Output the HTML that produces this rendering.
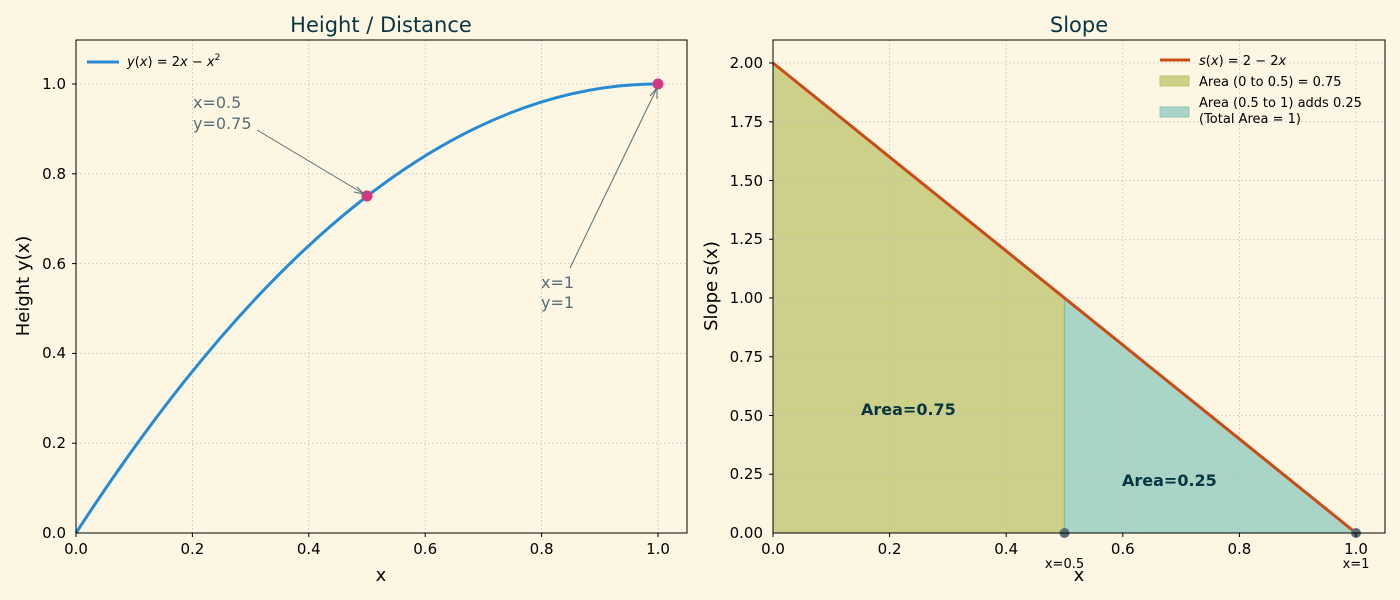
<!DOCTYPE html><html><head><meta charset="utf-8"><style>body{margin:0;background:#fdf6e3}svg{display:block;font-family:"DejaVu Sans","Liberation Sans",sans-serif}</style></head><body>
<svg width="1400" height="600" viewBox="0 0 1400 600">
<rect width="1400" height="600" fill="#fdf6e3"/>
<g stroke="#bbb" stroke-dasharray="1.5,2.5" stroke-width="0.8">
<line x1="192.4" y1="40" x2="192.4" y2="533"/><line x1="308.8" y1="40" x2="308.8" y2="533"/><line x1="425.2" y1="40" x2="425.2" y2="533"/><line x1="541.6" y1="40" x2="541.6" y2="533"/><line x1="658" y1="40" x2="658" y2="533"/>
<line x1="76" y1="443.2" x2="687" y2="443.2"/><line x1="76" y1="353.4" x2="687" y2="353.4"/><line x1="76" y1="263.6" x2="687" y2="263.6"/><line x1="76" y1="173.8" x2="687" y2="173.8"/><line x1="76" y1="84" x2="687" y2="84"/>
</g>
<path d="M76,533 Q367,84 658,84" fill="none" stroke="#268bd2" stroke-width="3"/>
<circle cx="367" cy="196" r="5.5" fill="#d33682"/><circle cx="658" cy="84" r="5.5" fill="#d33682"/>
<g stroke="#586e75" stroke-width="1" fill="none"><line x1="257" y1="130" x2="364" y2="194"/><path d="M354,192 L364,194 L357,187"/><line x1="570" y1="268" x2="657" y2="88"/><path d="M650,96 L657,88 L657,99"/></g>
<g fill="#586e75" font-size="16"><text x="193" y="108">x=0.5</text><text x="193" y="129">y=0.75</text><text x="541" y="288">x=1</text><text x="541" y="308">y=1</text></g>
<rect x="76" y="40" width="611" height="493" fill="none" stroke="#000" stroke-width="1"/>
<g font-size="15" fill="#000" text-anchor="middle">
<text x="76" y="554">0.0</text><text x="192.4" y="554">0.2</text><text x="308.8" y="554">0.4</text><text x="425.2" y="554">0.6</text><text x="541.6" y="554">0.8</text><text x="658" y="554">1.0</text></g>
<g font-size="15" fill="#000" text-anchor="end">
<text x="66" y="538">0.0</text><text x="66" y="448">0.2</text><text x="66" y="358">0.4</text><text x="66" y="269">0.6</text><text x="66" y="179">0.8</text><text x="66" y="89">1.0</text></g>
<g stroke="#000"><line x1="76" y1="533" x2="76" y2="537"/><line x1="192.4" y1="533" x2="192.4" y2="537"/><line x1="308.8" y1="533" x2="308.8" y2="537"/><line x1="425.2" y1="533" x2="425.2" y2="537"/><line x1="541.6" y1="533" x2="541.6" y2="537"/><line x1="658" y1="533" x2="658" y2="537"/>
<line x1="72" y1="443.2" x2="76" y2="443.2"/><line x1="72" y1="353.4" x2="76" y2="353.4"/><line x1="72" y1="263.6" x2="76" y2="263.6"/><line x1="72" y1="173.8" x2="76" y2="173.8"/><line x1="72" y1="84" x2="76" y2="84"/></g>
<text x="381" y="581" font-size="18" text-anchor="middle">x</text>
<text transform="translate(29,286) rotate(-90)" font-size="18" text-anchor="middle">Height y(x)</text>
<text x="381" y="32" font-size="21" fill="#073642" text-anchor="middle">Height / Distance</text>
<line x1="87" y1="62" x2="119" y2="62" stroke="#268bd2" stroke-width="3"/>
<text x="127" y="66" font-size="13"><tspan font-style="italic">y</tspan>(<tspan font-style="italic">x</tspan>) = 2<tspan font-style="italic">x</tspan> − <tspan font-style="italic">x</tspan><tspan font-size="9" dy="-6">2</tspan></text>

<polygon points="773,533 773,63 1064.5,298 1064.5,533" fill="#cdd089"/>
<polygon points="1064.5,533 1064.5,298 1356,533" fill="#a9d5c6"/>
<line x1="1064.5" y1="298" x2="1064.5" y2="533" stroke="#8fbf8f" stroke-width="1.5"/>
<g stroke="#bbb" stroke-dasharray="1.5,2.5" stroke-width="0.8">
<line x1="889.6" y1="40" x2="889.6" y2="533"/><line x1="1006.2" y1="40" x2="1006.2" y2="533"/><line x1="1122.8" y1="40" x2="1122.8" y2="533"/><line x1="1239.4" y1="40" x2="1239.4" y2="533"/><line x1="1356" y1="40" x2="1356" y2="533"/>
<line x1="773" y1="474.25" x2="1385" y2="474.25"/><line x1="773" y1="415.5" x2="1385" y2="415.5"/><line x1="773" y1="356.75" x2="1385" y2="356.75"/><line x1="773" y1="298" x2="1385" y2="298"/><line x1="773" y1="239.25" x2="1385" y2="239.25"/><line x1="773" y1="180.5" x2="1385" y2="180.5"/><line x1="773" y1="121.75" x2="1385" y2="121.75"/><line x1="773" y1="63" x2="1385" y2="63"/>
</g>
<line x1="773" y1="63" x2="1356" y2="533" stroke="#cb4b16" stroke-width="3"/>
<circle cx="1064.5" cy="533" r="5" fill="#586e75"/><circle cx="1356" cy="533" r="5" fill="#586e75"/>
<g font-size="16" font-weight="bold" fill="#073642"><text x="861" y="415">Area=0.75</text><text x="1122" y="486">Area=0.25</text></g>
<rect x="773" y="40" width="612" height="493" fill="none" stroke="#000" stroke-width="1"/>
<g font-size="15" text-anchor="middle">
<text x="773" y="554">0.0</text><text x="889.6" y="554">0.2</text><text x="1006.2" y="554">0.4</text><text x="1122.8" y="554">0.6</text><text x="1239.4" y="554">0.8</text><text x="1356" y="554">1.0</text></g>
<g font-size="13" text-anchor="middle"><text x="1064.5" y="568">x=0.5</text><text x="1356" y="568">x=1</text></g>
<g font-size="15" text-anchor="end">
<text x="763" y="538">0.00</text><text x="763" y="479">0.25</text><text x="763" y="421">0.50</text><text x="763" y="362">0.75</text><text x="763" y="303">1.00</text><text x="763" y="244">1.25</text><text x="763" y="186">1.50</text><text x="763" y="127">1.75</text><text x="763" y="68">2.00</text></g>
<g stroke="#000"><line x1="773" y1="533" x2="773" y2="537"/><line x1="889.6" y1="533" x2="889.6" y2="537"/><line x1="1006.2" y1="533" x2="1006.2" y2="537"/><line x1="1122.8" y1="533" x2="1122.8" y2="537"/><line x1="1239.4" y1="533" x2="1239.4" y2="537"/><line x1="1356" y1="533" x2="1356" y2="537"/>
<line x1="769" y1="474.25" x2="773" y2="474.25"/><line x1="769" y1="415.5" x2="773" y2="415.5"/><line x1="769" y1="356.75" x2="773" y2="356.75"/><line x1="769" y1="298" x2="773" y2="298"/><line x1="769" y1="239.25" x2="773" y2="239.25"/><line x1="769" y1="180.5" x2="773" y2="180.5"/><line x1="769" y1="121.75" x2="773" y2="121.75"/><line x1="769" y1="63" x2="773" y2="63"/></g>
<text x="1079" y="581" font-size="18" text-anchor="middle">x</text>
<text transform="translate(717,286) rotate(-90)" font-size="18" text-anchor="middle">Slope s(x)</text>
<text x="1079" y="32" font-size="21" fill="#073642" text-anchor="middle">Slope</text>
<line x1="1160" y1="60" x2="1190" y2="60" stroke="#cb4b16" stroke-width="3"/>
<rect x="1160" y="76" width="29" height="10" fill="#cdd089" stroke="#bfc470"/>
<rect x="1160" y="107" width="29" height="10" fill="#a9d5c6" stroke="#8fc7b8"/>
<g font-size="13"><text x="1199" y="65"><tspan font-style="italic">s</tspan>(<tspan font-style="italic">x</tspan>) = 2 − 2<tspan font-style="italic">x</tspan></text><text x="1199" y="86">Area (0 to 0.5) = 0.75</text><text x="1199" y="107">Area (0.5 to 1) adds 0.25</text><text x="1199" y="123">(Total Area = 1)</text></g>
</svg></body></html>
